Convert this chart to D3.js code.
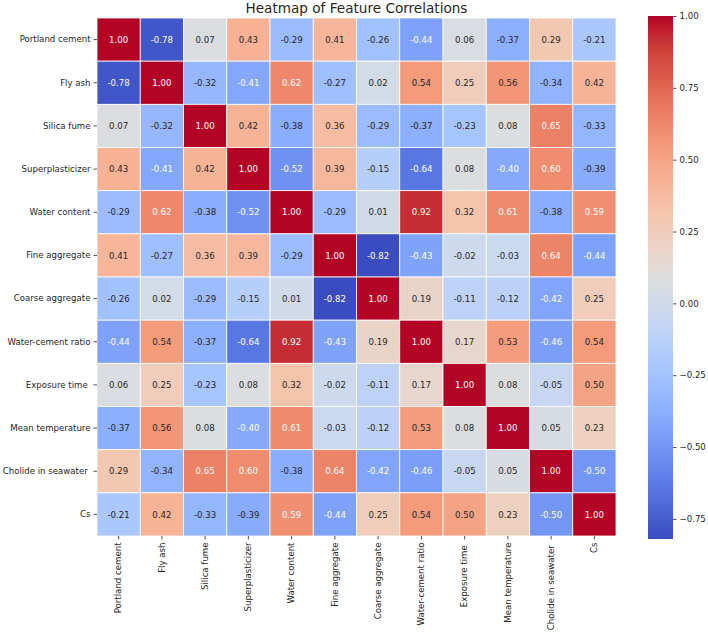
<!DOCTYPE html>
<html>
<head>
<meta charset="utf-8">
<script src="https://cdn.jsdelivr.net/npm/d3@7"></script>
<style>
  body { margin: 0; background: #fff; }
  svg text { font-family: "DejaVu Sans", sans-serif; }
</style>
</head>
<body>
<svg id="chart" width="708" height="635"></svg>
<script>
const features = ["Portland cement", "Fly ash", "Silica fume", "Superplasticizer",
    "Water content", "Fine aggregate", "Coarse aggregate", "Water-cement ratio",
    "Exposure time ", "Mean temperature", "Cholide in seawater ", "Cs"];

const corr = [
    [1.00, -0.78, 0.07, 0.43, -0.29, 0.41, -0.26, -0.44, 0.06, -0.37, 0.29, -0.21],
    [-0.78, 1.00, -0.32, -0.41, 0.62, -0.27, 0.02, 0.54, 0.25, 0.56, -0.34, 0.42],
    [0.07, -0.32, 1.00, 0.42, -0.38, 0.36, -0.29, -0.37, -0.23, 0.08, 0.65, -0.33],
    [0.43, -0.41, 0.42, 1.00, -0.52, 0.39, -0.15, -0.64, 0.08, -0.40, 0.60, -0.39],
    [-0.29, 0.62, -0.38, -0.52, 1.00, -0.29, 0.01, 0.92, 0.32, 0.61, -0.38, 0.59],
    [0.41, -0.27, 0.36, 0.39, -0.29, 1.00, -0.82, -0.43, -0.02, -0.03, 0.64, -0.44],
    [-0.26, 0.02, -0.29, -0.15, 0.01, -0.82, 1.00, 0.19, -0.11, -0.12, -0.42, 0.25],
    [-0.44, 0.54, -0.37, -0.64, 0.92, -0.43, 0.19, 1.00, 0.17, 0.53, -0.46, 0.54],
    [0.06, 0.25, -0.23, 0.08, 0.32, -0.02, -0.11, 0.17, 1.00, 0.08, -0.05, 0.50],
    [-0.37, 0.56, 0.08, -0.40, 0.61, -0.03, -0.12, 0.53, 0.08, 1.00, 0.05, 0.23],
    [0.29, -0.34, 0.65, 0.60, -0.38, 0.64, -0.42, -0.46, -0.05, 0.05, 1.00, -0.50],
    [-0.21, 0.42, -0.33, -0.39, 0.59, -0.44, 0.25, 0.54, 0.50, 0.23, -0.50, 1.00]
];

const colorbarTicks = [-0.75, -0.5, -0.25, 0, 0.25, 0.5, 0.75, 1.0];

// coolwarm (Moreland), sampled every 1/16
const coolwarm = ["#3b4cc0", "#4d68d7", "#6282ea", "#779af7", "#8db0fe", "#a3c2ff",
    "#b8d0f9", "#ccd9ee", "#dddddd", "#ecd3c5", "#f5c4ad", "#f7b194", "#f49a7b",
    "#ec7f63", "#de604d", "#cb3e38", "#b40426"];

const svg = d3.select("#chart");
const gridLeft = 97, gridRight = 616, gridTop = 18, gridBottom = 536;

const vmin = d3.min(corr.flat()), vmax = d3.max(corr.flat());
const cmap = d3.scaleLinear()
    .domain(d3.range(coolwarm.length).map(i => i / (coolwarm.length - 1)))
    .range(coolwarm)
    .interpolate(d3.interpolateRgb);
const norm = d3.scaleLinear().domain([vmin, vmax]).range([0, 1]).clamp(true);
const color = v => cmap(norm(v));

function textColor(c) {
    const rgb = d3.rgb(c);
    const lin = u => { u /= 255; return u <= 0.03928 ? u / 12.92 : Math.pow((u + 0.055) / 1.055, 2.4); };
    const lum = 0.2126 * lin(rgb.r) + 0.7152 * lin(rgb.g) + 0.0722 * lin(rgb.b);
    return lum < 0.408 ? "#ffffff" : "#262626";
}

const x = d3.scaleBand().domain(features).range([gridLeft, gridRight]);
const y = d3.scaleBand().domain(features).range([gridTop, gridBottom]);

const cells = [];
corr.forEach((row, i) => row.forEach((v, j) => cells.push({ r: features[i], c: features[j], v: v })));

svg.append("g")
    .selectAll("rect")
    .data(cells)
    .join("rect")
    .attr("x", d => x(d.c))
    .attr("y", d => y(d.r))
    .attr("width", x.bandwidth())
    .attr("height", y.bandwidth())
    .attr("fill", d => color(d.v))
    .attr("stroke", "#fff")
    .attr("stroke-width", 0.8);

svg.append("g")
    .selectAll("text")
    .data(cells)
    .join("text")
    .attr("x", d => x(d.c) + x.bandwidth() / 2)
    .attr("y", d => y(d.r) + y.bandwidth() / 2)
    .attr("dy", "0.36em")
    .attr("text-anchor", "middle")
    .attr("font-size", 8.6)
    .attr("fill", d => textColor(color(d.v)))
    .text(d => d3.format(".2f")(d.v).replace("−", "-"));

// y axis
const yAxis = svg.append("g")
    .attr("transform", `translate(${gridLeft},0)`)
    .call(d3.axisLeft(y).tickSize(3.5).tickPadding(3));
yAxis.select(".domain").remove();
yAxis.selectAll("line").attr("stroke", "#262626").attr("stroke-width", 0.8);
yAxis.selectAll("text").attr("font-size", 8.6).attr("fill", "#262626")
    .attr("font-family", "DejaVu Sans").style("white-space", "pre");

// x axis
const xAxis = svg.append("g")
    .attr("transform", `translate(0,${gridBottom})`)
    .call(d3.axisBottom(x).tickSize(3.5).tickPadding(3));
xAxis.select(".domain").remove();
xAxis.selectAll("line").attr("stroke", "#262626").attr("stroke-width", 0.8);
xAxis.selectAll("text")
    .attr("font-size", 8.6).attr("fill", "#262626").attr("font-family", "DejaVu Sans")
    .style("white-space", "pre")
    .attr("transform", "rotate(-90)")
    .attr("text-anchor", "end")
    .attr("x", -6.5)
    .attr("y", 0)
    .attr("dy", "0.32em");

// title
svg.append("text")
    .attr("x", (gridLeft + gridRight) / 2)
    .attr("y", 13)
    .attr("text-anchor", "middle")
    .attr("font-size", 13.6)
    .attr("fill", "#262626")
    .text("Heatmap of Feature Correlations");

// colorbar
const cbX = 648, cbW = 25, cbTop = 16, cbBottom = 539;
const cbScale = d3.scaleLinear().domain([vmin, vmax]).range([cbBottom, cbTop]);

const grad = svg.append("defs").append("linearGradient")
    .attr("id", "cbgrad")
    .attr("x1", 0).attr("y1", 1).attr("x2", 0).attr("y2", 0);
grad.selectAll("stop")
    .data(d3.range(0, 1.0001, 1 / 64))
    .join("stop")
    .attr("offset", d => d)
    .attr("stop-color", d => cmap(d));

svg.append("rect")
    .attr("x", cbX).attr("y", cbTop)
    .attr("width", cbW).attr("height", cbBottom - cbTop)
    .attr("fill", "url(#cbgrad)");

const cbAxis = svg.append("g")
    .attr("transform", `translate(${cbX + cbW},0)`)
    .call(d3.axisRight(cbScale).tickValues(colorbarTicks).tickSize(3.5).tickPadding(3)
        .tickFormat(d3.format(".2f")));
cbAxis.select(".domain").remove();
cbAxis.selectAll("line").attr("stroke", "#262626").attr("stroke-width", 0.8);
cbAxis.selectAll("text").attr("font-size", 8.6).attr("fill", "#262626")
    .attr("font-family", "DejaVu Sans");
</script>
</body>
</html>
